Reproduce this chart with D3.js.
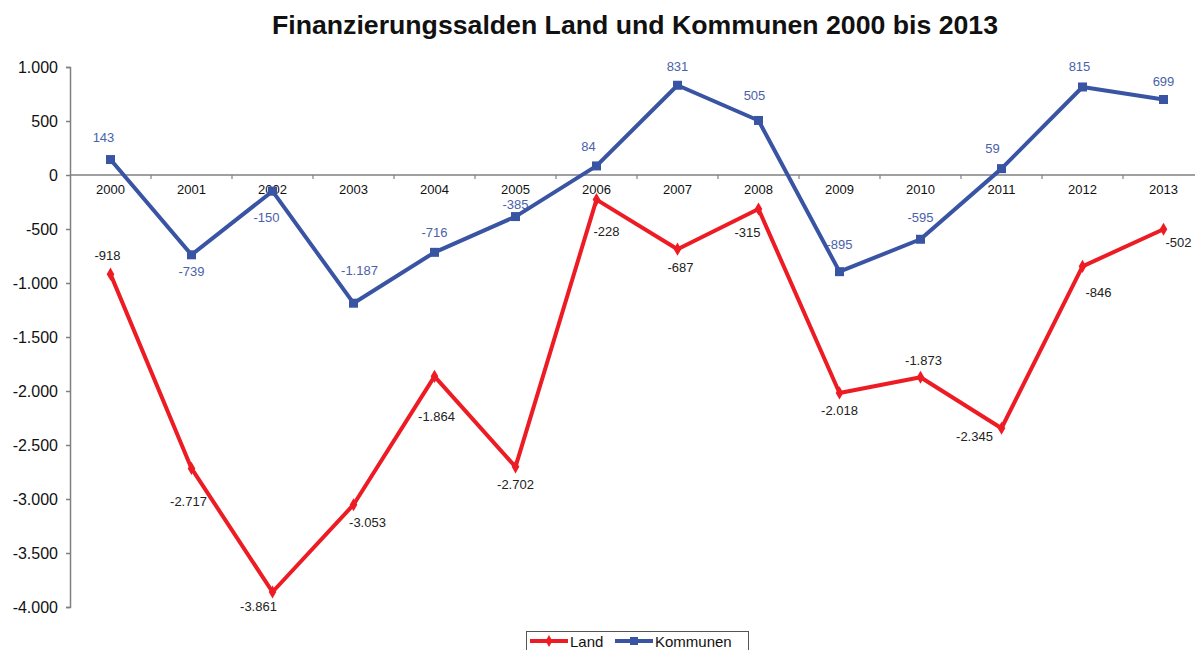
<!DOCTYPE html>
<html>
<head>
<meta charset="utf-8">
<script src="https://cdn.jsdelivr.net/npm/d3@7"></script>
<style>
  body { margin:0; background:#fff; }
  svg { display:block; font-family:"Liberation Sans", Arial, sans-serif; }
</style>
</head>
<body>
<svg width="1195" height="650"></svg>
<script>
// Finanzierungssalden Land und Kommunen 2000 bis 2013 (Mio. Euro)
const years    = ["2000","2001","2002","2003","2004","2005","2006","2007","2008","2009","2010","2011","2012","2013"];
const land     = [-918,-2717,-3861,-3053,-1864,-2702,-228,-687,-315,-2018,-1873,-2345,-846,-502];
const kommunen = [143,-739,-150,-1187,-716,-385,84,831,505,-895,-595,59,815,699];
const yTicks   = [1000,500,0,-500,-1000,-1500,-2000,-2500,-3000,-3500,-4000];

// label placement (dx, dy) relative to the marker, as Excel put them
const landLabelOff = [[-3,-19],[-3,33],[-14,14],[14,17],[2,40],[0,17],[10,31],[3,18],[-11,23],[0,17],[3,-17],[-27,8],[16,26],[15,13]];
const kommLabelOff = [[-7,-23],[0,16],[-6,26],[6,-33],[0,-20],[0,-13],[-8,-20],[0,-19],[-4,-25],[0,-28],[0,-22],[-9,-21],[-3,-21],[0,-19]];

const C = { land:"#ed1c24", komm:"#3a54a4", kommText:"#4a62aa", axis:"#808080", ink:"#222" };

const svg = d3.select("svg");
// German style: dot as thousands separator, plain hyphen as minus
const fmt = v => d3.format(",")(v).replace(/,/g,".").replace("\u2212","-");

const x = d3.scaleBand().domain(years).range([70,1204]);
const y = d3.scaleLinear().domain([-4000,1000]).range([607,67]);
const cx = d => x(d) + x.bandwidth()/2;

// title
svg.append("text").attr("x",635).attr("y",34).attr("text-anchor","middle")
  .attr("font-size",25).attr("font-weight","bold").attr("fill","#111")
  .attr("textLength",726).attr("lengthAdjust","spacingAndGlyphs")
  .text("Finanzierungssalden Land und Kommunen 2000 bis 2013");

// y axis
const yAx = svg.append("g").attr("transform","translate(70,0)")
  .call(d3.axisLeft(y).tickValues(yTicks).tickSize(4).tickFormat(fmt));
yAx.select(".domain").attr("stroke",C.axis).attr("stroke-width",1.5);
yAx.selectAll(".tick line").attr("stroke",C.axis).attr("stroke-width",1.5);
yAx.selectAll(".tick text").attr("font-size",16).attr("fill","#111").attr("x",-12)
  .attr("font-family","Liberation Sans, Arial, sans-serif");

// x axis at zero, ticks at category boundaries
const xg = svg.append("g");
xg.append("line").attr("x1",70).attr("x2",1195).attr("y1",y(0)).attr("y2",y(0))
  .attr("stroke",C.axis).attr("stroke-width",1.5);
xg.selectAll("line.t").data(years.slice(1)).join("line").attr("class","t")
  .attr("x1",d=>x(d)).attr("x2",d=>x(d)).attr("y1",y(0)).attr("y2",y(0)+4)
  .attr("stroke",C.axis).attr("stroke-width",1.2);
xg.selectAll("text").data(years).join("text")
  .attr("x",cx).attr("y",y(0)+19).attr("text-anchor","middle")
  .attr("font-size",13).attr("fill","#111").text(d=>d);

const line = d3.line().x((d,i)=>cx(years[i])).y(d=>y(d));

// Land
svg.append("path").datum(land).attr("d",line).attr("fill","none")
  .attr("stroke",C.land).attr("stroke-width",4).attr("stroke-linejoin","round");
svg.selectAll("path.dm").data(land).join("path").attr("class","dm")
  .attr("d",d3.symbol(d3.symbolDiamond,50))
  .attr("transform",(d,i)=>`translate(${cx(years[i])},${y(d)})`).attr("fill",C.land);

// Kommunen
svg.append("path").datum(kommunen).attr("d",line).attr("fill","none")
  .attr("stroke",C.komm).attr("stroke-width",4).attr("stroke-linejoin","round");
svg.selectAll("rect.sq").data(kommunen).join("rect").attr("class","sq")
  .attr("x",(d,i)=>cx(years[i])-4.5).attr("y",d=>y(d)-4.5)
  .attr("width",9).attr("height",9).attr("fill",C.komm);

// data labels
svg.selectAll("text.ll").data(land).join("text").attr("class","ll")
  .attr("x",(d,i)=>cx(years[i])+landLabelOff[i][0]).attr("y",(d,i)=>y(d)+landLabelOff[i][1]+5)
  .attr("text-anchor","middle").attr("font-size",13).attr("fill",C.ink).text(fmt);
svg.selectAll("text.kl").data(kommunen).join("text").attr("class","kl")
  .attr("x",(d,i)=>cx(years[i])+kommLabelOff[i][0]).attr("y",(d,i)=>y(d)+kommLabelOff[i][1]+5)
  .attr("text-anchor","middle").attr("font-size",13).attr("fill",C.kommText).text(fmt);

// legend
const lg = svg.append("g");
lg.append("rect").attr("x",526.5).attr("y",631.5).attr("width",222).attr("height",30)
  .attr("fill","#fff").attr("stroke","#555");
[{name:"Land",c:C.land,x0:530,sym:"d"},{name:"Kommunen",c:C.komm,x0:615,sym:"s"}].forEach(s=>{
  lg.append("line").attr("x1",s.x0).attr("x2",s.x0+38).attr("y1",641).attr("y2",641)
    .attr("stroke",s.c).attr("stroke-width",4);
  if(s.sym==="d")
    lg.append("path").attr("d",d3.symbol(d3.symbolDiamond,40)).attr("transform",`translate(${s.x0+19},641)`).attr("fill",s.c);
  else
    lg.append("rect").attr("x",s.x0+15).attr("y",637).attr("width",8).attr("height",8).attr("fill",s.c);
  lg.append("text").attr("x",s.x0+40).attr("y",647).attr("font-size",15).attr("fill","#111").text(s.name);
});
</script>
</body>
</html>
